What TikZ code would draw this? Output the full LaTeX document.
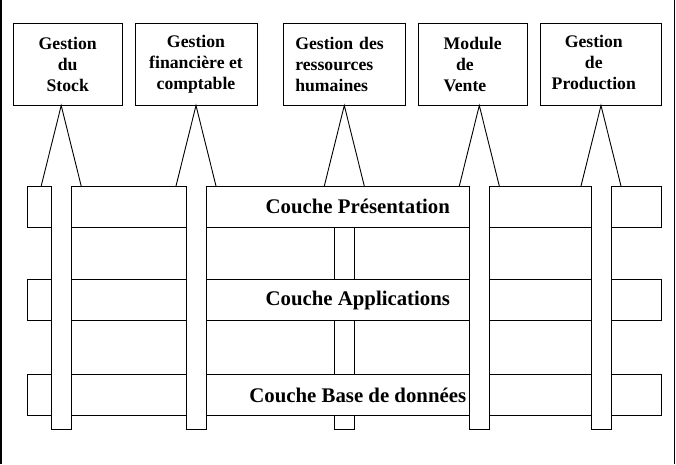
\documentclass[tikz,border=0pt]{standalone}
\usepackage{fontspec}
\setmainfont{Liberation Serif}

\tikzset{
  modbox/.style={draw, line width=0.9pt, inner sep=0pt, minimum height=81.7pt,
    font=\bfseries\fontsize{17.7}{21}\selectfont},
  couche/.style={draw, fill=white, line width=0.9pt, inner sep=0pt,
    minimum width=634.7pt, minimum height=41pt},
  titre/.style={inner sep=0pt, font=\bfseries\fontsize{20.8}{25}\selectfont},
  pilier/.style={draw, fill=white, line width=0.9pt},
}

\begin{document}
\begin{tikzpicture}[x=1pt, y=-1pt]
        \useasboundingbox (0,0) rectangle (676,464);

        % draw side lines of the frame
        \draw[line width=1.2pt] (1,0) -- (1,464);
        \draw[line width=1.2pt] (674.3,0) -- (674.3,464);

        % draw modules
        \node[modbox, minimum width=108.7pt, align=center] (stock) at (67.7,64.2) {Gestion\\du\\Stock};
        \node[modbox, minimum width=122pt, align=center] (finance) at (196,64.2) {Gestion\\financière et\\comptable};
        \node[modbox, minimum width=122pt, align=left, text width=98pt] (rh) at (344.3,64.2) {Gestion des\\ressources\\humaines};
        \node[modbox, minimum width=108.7pt, align=left] (vente) at (472.7,64.2) {Module\\\hspace*{.7em}de\\Vente};
        \node[modbox, minimum width=121.7pt] (prod) at (600.8,64.2) {\begin{tabular}{@{}c@{}}Gestion\\de\\Production\end{tabular}\hspace*{14pt}};

        % column tops and bottoms
        \foreach \c/\x in {1/61.2,2/196,3/344.3,4/479.3,5/601} {
          \coordinate (p\c) at (\x,186);
          \coordinate (b\c) at (\x,429);
        }

        % draw triangles up to the modules
        \foreach \c/\m in {1/stock,2/finance,3/rh,4/vente,5/prod}
          \draw[line width=0.9pt] ([xshift=-20pt]p\c) -- (p\c |- \m.south) -- ([xshift=20pt]p\c);

        % draw column behind the layers
        \draw[pilier] ([xshift=-10pt]p3) -- ([xshift=-10pt]b3) -- ([xshift=10pt]b3) -- ([xshift=10pt]p3);

        % draw layers
        \node[couche] (pres) at (344.3,206.5) {};
        \node[couche] (appli) at (344.3,300) {};
        \node[couche] (bdd) at (344.3,395) {};

        % draw columns in front of the layers
        \foreach \c in {1,2,4,5}
          \draw[pilier] ([xshift=-10pt]p\c) -- ([xshift=-10pt]b\c) -- ([xshift=10pt]b\c) -- ([xshift=10pt]p\c);

        % layer names
        \node[titre] (tpres) at (357.8,0 |- pres) {Couche Présentation};
        \node[titre] (tappli) at (357.8,0 |- appli) {Couche Applications};
        \node[titre] (tbdd) at (357.8,0 |- bdd) {Couche Base de données};
\end{tikzpicture}
\end{document}
